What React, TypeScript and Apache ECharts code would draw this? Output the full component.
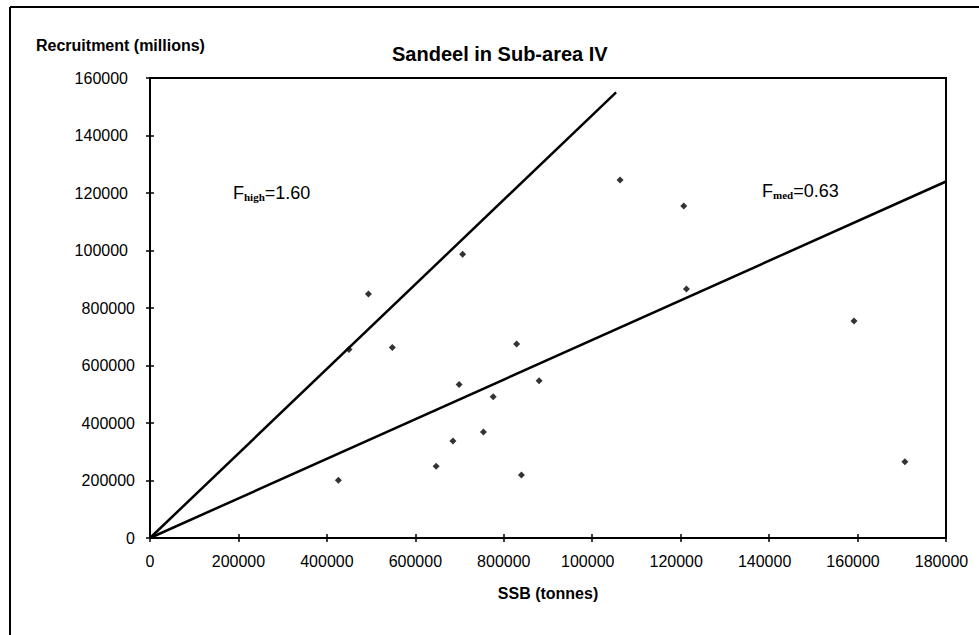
import React, { useEffect, useRef } from "react";
import * as echarts from "echarts";

// Spawning stock biomass (tonnes) and recruitment (millions) pairs
const ssb = [426000, 450000, 494000, 548000, 707000, 647000, 685000, 699000, 754000, 776000, 829000, 840000, 880000, 1063000, 1207000, 1213000, 1592000, 1707000];
const recruitment = [201000, 656000, 849000, 663000, 987000, 250000, 337000, 534000, 369000, 491000, 675000, 219000, 547000, 1245000, 1155000, 866000, 755000, 265000];

// Replacement lines (through origin)
const fHighLine = [[0, 0], [1054000, 1550000]];
const fMedLine = [[0, 0], [1800000, 1240000]];

// Tick labels as printed on the chart
const xTickLabels = ["0", "200000", "400000", "600000", "800000", "100000", "120000", "140000", "160000", "180000"];
const yTickLabels = ["0", "200000", "400000", "600000", "800000", "100000", "120000", "140000", "160000"];

const FONT = "'Liberation Sans', Arial, Helvetica, sans-serif";
const SERIF = "'Liberation Serif', 'Times New Roman', serif";

export default function App() {
  const ref = useRef<HTMLDivElement>(null);
  useEffect(() => {
    if (!ref.current) return;
    const chart = echarts.init(ref.current, null, { renderer: "svg" });
    const fmt = (labels: string[]) => (v: number) => {
      const i = Math.round(v / 200000);
      const t = labels[i] ?? "";
      return i >= 5 ? `{t|${t}}` : `{n|${t}}`;
    };
    const tickStyle = { color: "#000", width: 1.5 };
    chart.setOption({
      animation: false,
      backgroundColor: "#fff",
      textStyle: { fontFamily: FONT, color: "#000" },
      title: {
        text: "Sandeel in Sub-area IV",
        left: 387,
        top: 39,
        textStyle: { fontFamily: FONT, fontSize: 20, fontWeight: "bold", color: "#000" },
      },
      grid: {
        left: 150,
        top: 78,
        right: 33,
        bottom: 97,
        show: true,
        borderColor: "#000",
        borderWidth: 2,
        backgroundColor: "#fff",
      },
      xAxis: [
        {
          type: "value",
          min: 0,
          max: 1800000,
          interval: 200000,
          axisLine: { show: true, onZero: false, lineStyle: { color: "#000", width: 2 } },
          axisTick: { show: true, length: 4, lineStyle: tickStyle },
          splitLine: { show: false },
          axisLabel: {
            margin: 15,
            color: "#000",
            fontSize: 16,
            fontFamily: FONT,
            formatter: fmt(xTickLabels),
            rich: {
              n: { fontSize: 16, fontFamily: FONT, color: "#000" },
              t: { fontSize: 16, fontFamily: FONT, color: "#000", padding: [0, 9, 0, 0] },
            },
          },
          name: "SSB (tonnes)",
          nameLocation: "middle",
          nameGap: 47,
          nameTextStyle: { fontFamily: FONT, fontSize: 16, fontWeight: "bold", color: "#000" },
        },
        {
          type: "value",
          min: 0,
          max: 1800000,
          interval: 200000,
          position: "bottom",
          axisLine: { show: false },
          axisTick: { show: true, inside: true, length: 4, lineStyle: tickStyle },
          axisLabel: { show: false },
          splitLine: { show: false },
        },
      ],
      yAxis: [
        {
          type: "value",
          min: 0,
          max: 1600000,
          interval: 200000,
          axisLine: { show: true, onZero: false, lineStyle: { color: "#000", width: 2 } },
          axisTick: { show: true, length: 4, lineStyle: tickStyle },
          splitLine: { show: false },
          axisLabel: {
            margin: 15,
            color: "#000",
            fontSize: 16,
            fontFamily: FONT,
            formatter: fmt(yTickLabels),
            rich: {
              n: { fontSize: 16, fontFamily: FONT, color: "#000" },
              t: { fontSize: 16, fontFamily: FONT, color: "#000", padding: [0, 7, 0, 0] },
            },
          },
        },
        {
          type: "value",
          min: 0,
          max: 1600000,
          interval: 200000,
          position: "left",
          axisLine: { show: false },
          axisTick: { show: true, inside: true, length: 4, lineStyle: tickStyle },
          axisLabel: { show: false },
          splitLine: { show: false },
        },
      ],
      series: [
        {
          type: "line",
          data: fHighLine,
          showSymbol: false,
          symbol: "none",
          lineStyle: { color: "#000", width: 2.5 },
          z: 3,
        },
        {
          type: "line",
          data: fMedLine,
          showSymbol: false,
          symbol: "none",
          lineStyle: { color: "#000", width: 2.5 },
          z: 3,
        },
        {
          type: "scatter",
          data: ssb.map((x, i) => [x, recruitment[i]]),
          symbol: "diamond",
          symbolSize: 7,
          itemStyle: { color: "#000" },
          z: 4,
        },
      ],
      graphic: [
        { type: "line", shape: { x1: 10, y1: 7, x2: 979, y2: 7 }, style: { stroke: "#000", lineWidth: 2 } },
        { type: "line", shape: { x1: 10, y1: 7, x2: 10, y2: 635 }, style: { stroke: "#000", lineWidth: 2 } },
        {
          type: "text",
          x: 36,
          y: 45,
          style: {
            text: "Recruitment (millions)",
            fontFamily: FONT,
            fontSize: 16,
            fontWeight: "bold",
            fill: "#000",
            verticalAlign: "middle",
          },
        },
        {
          type: "text",
          x: 233,
          y: 193,
          style: {
            text: "{f|F}{s|high}{f|=1.60}",
            verticalAlign: "middle",
            rich: {
              f: { fontFamily: FONT, fontSize: 18, fill: "#000" },
              s: { fontFamily: SERIF, fontSize: 11, fontWeight: "bold", fill: "#000", verticalAlign: "bottom" },
            },
          },
        },
        {
          type: "text",
          x: 762,
          y: 191,
          style: {
            text: "{f|F}{s|med}{f|=0.63}",
            verticalAlign: "middle",
            rich: {
              f: { fontFamily: FONT, fontSize: 18, fill: "#000" },
              s: { fontFamily: SERIF, fontSize: 11, fontWeight: "bold", fill: "#000", verticalAlign: "bottom" },
            },
          },
        },
      ],
    });
    return () => chart.dispose();
  }, []);
  return (
    <div
      ref={ref}
      style={{ position: "fixed", left: 0, top: 0, width: 979, height: 635, background: "#fff" }}
    />
  );
}
